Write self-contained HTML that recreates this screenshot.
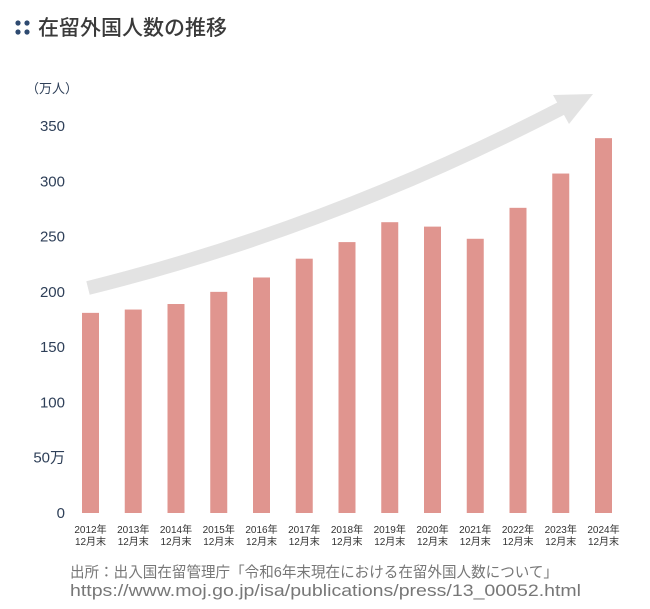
<!DOCTYPE html>
<html><head><meta charset="utf-8">
<style>
html,body{margin:0;padding:0;background:#fff;}
body{width:650px;height:604px;overflow:hidden;font-family:"Liberation Sans","Noto Sans CJK JP",sans-serif;}
</style></head>
<body>
<svg width="650" height="604" viewBox="0 0 650 604" xmlns="http://www.w3.org/2000/svg">
  <g>
    <circle cx="18" cy="23" r="2.6" fill="#2e4a70"/><circle cx="27" cy="23" r="2.6" fill="#2e4a70"/>
    <circle cx="18" cy="32" r="2.6" fill="#2e4a70"/><circle cx="27" cy="32" r="2.6" fill="#2e4a70"/>
    <text x="38" y="35" font-size="21" font-weight="500" fill="#3a3a3a" font-family="'Liberation Sans','Noto Sans CJK JP',sans-serif">在留外国人数の推移</text>
  </g>
  <text x="26" y="93" font-size="13" fill="#2e3f58" font-family="'Liberation Sans','Noto Sans CJK JP',sans-serif">（万人）</text>
  <g>
    <path d="M88,288 Q330,228 562,108" fill="none" stroke="#e3e3e3" stroke-width="14"/>
    <polygon points="593,94 553,95 569,124" fill="#e3e3e3"/>
  </g>
  <g id="yaxis"></g>
  <g id="bars"></g>
  <g id="xaxis"></g>
  <g font-family="'Liberation Sans','Noto Sans CJK JP',sans-serif" fill="#777">
    <text x="70" y="577" font-size="15" textLength="488" lengthAdjust="spacingAndGlyphs">出所：出入国在留管理庁「令和6年末現在における在留外国人数について」</text>
    <text x="70" y="596" font-size="17" textLength="511" lengthAdjust="spacingAndGlyphs">https://www.moj.go.jp/isa/publications/press/13_00052.html</text>
  </g>
</svg>
<script>
const years = ["2012年","2013年","2014年","2015年","2016年","2017年","2018年","2019年","2020年","2021年","2022年","2023年","2024年"];
const values = [181,184,189,200,213,230,245,263,259,248,276,307,339];
const yTicks = [0,50,100,150,200,250,300,350];
const yTickLabels = ["0","50万","100","150","200","250","300","350"];
const NS="http://www.w3.org/2000/svg";
const y0=513, yTop=126, yMax=350;
function yScale(v){return y0-(v/yMax)*(y0-yTop);}
function xScale(i){return 90.5+i*42.75;}
const bars=document.getElementById('bars'), xa=document.getElementById('xaxis'), ya=document.getElementById('yaxis');
values.forEach((v,i)=>{
  const r=document.createElementNS(NS,'rect');
  r.setAttribute('x',xScale(i)-8.5);r.setAttribute('width',17);
  r.setAttribute('y',yScale(v));r.setAttribute('height',y0-yScale(v));
  r.setAttribute('fill','#e0958f');
  
  
  bars.appendChild(r);
  [years[i],"12月末"].forEach((t,k)=>{
    const tx=document.createElementNS(NS,'text');
    tx.setAttribute('x',xScale(i));tx.setAttribute('y',533+k*12);
    tx.setAttribute('text-anchor','middle');tx.setAttribute('font-size','10');tx.setAttribute('fill','#333');
    tx.textContent=t;
    
    
    xa.appendChild(tx);
  });
});
yTicks.forEach((v,i)=>{
  const tx=document.createElementNS(NS,'text');
  tx.setAttribute('x',65);tx.setAttribute('y',yScale(v)+5);
  tx.setAttribute('text-anchor','end');tx.setAttribute('font-size','15');tx.setAttribute('fill','#2e3f58');
  tx.textContent=yTickLabels[i];
  
  
  ya.appendChild(tx);
});
</script>
</body></html>
